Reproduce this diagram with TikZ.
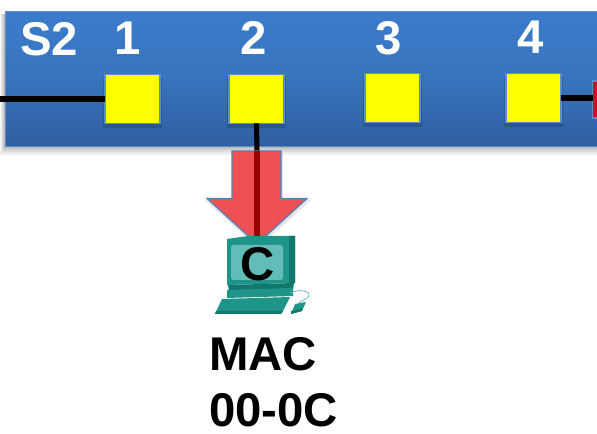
\documentclass[tikz,border=0pt]{standalone}
\usepackage{fontspec}
\setmainfont{Liberation Sans}
\usetikzlibrary{calc}
\definecolor{bandtop}{HTML}{3B7CCB}
\definecolor{bandbot}{HTML}{2F5F9F}
\definecolor{edgeblue}{HTML}{5F8FC8}
\definecolor{arrowred}{HTML}{EF5054}
\definecolor{arrowedge}{HTML}{4F81BD}
\definecolor{wirered}{HTML}{960000}
\definecolor{tealmid}{HTML}{1F9488}
\definecolor{tealdark}{HTML}{12786E}
\definecolor{teallight}{HTML}{62BDB8}
\definecolor{portred}{HTML}{C8102E}
\definecolor{pureyellow}{HTML}{FFFF00}
\tikzset{
  x=0.75pt,y=-0.75pt,
  port/.style={draw=edgeblue,line width=1.2pt,fill=pureyellow,minimum width=41.5pt,minimum height=36.5pt,inner sep=0pt,outer sep=0pt},
  wire/.style={line width=3.8pt,black},
  lbl/.style={font=\bfseries\fontsize{35.5}{35.5}\selectfont,white,inner sep=0pt},
  blk/.style={font=\bfseries\fontsize{35.5}{38}\selectfont,black,inner sep=0pt,align=left},
}
\begin{document}
\begin{tikzpicture}
\useasboundingbox (0,0) rectangle (597,434);
% band with soft shadow
\foreach \d/\o in {10/0.03,8/0.05,6/0.06,4/0.08,2/0.10}{
  \fill[black,opacity=\o] (5-\d*.5,14) rectangle (597,146+\d);
}
\node[draw=edgeblue,line width=1pt,minimum width=444pt,minimum height=101pt,inner sep=0pt,anchor=north west,top color=bandtop,bottom color=bandbot,middle color=bandtop!70!bandbot] (band) at (5,11) {};
% port shadows
\foreach \a/\b/\c/\e in {105/160/75/123,229/284/75/123,365/420/74/122,506/561/74/122}{
  \fill[black,opacity=.14] (\a-2,\c+2) rectangle (\b+2,\e+5);
}
\node[port] (p1) at (132.5,99) {};
\node[port] (p2) at (256.5,99) {};
\node[port] (p3) at (392.5,98) {};
\node[port] (p4) at (533.5,98) {};
\coordinate (leftend) at (0,99);
\fill[portred] (593,82) rectangle (597,117);
\draw[edgeblue,line width=.8pt] (597,81) -- (592.5,81) -- (592.5,118) -- (597,118);
\coordinate (rightend) at (593,98);
\coordinate (armtop) at (257,151);
\coordinate (pcend) at (257,236);
\draw[wire] (leftend) -- (p1.west);
\draw[wire] (p4.east) -- (rightend);
\draw[wire] (p2.south) -- (armtop);
% red arrow
\fill[black,opacity=.10] (234,153) -- (283,153) -- (283,200) -- (311,200) -- (258,248) -- (205,200) -- (234,200) -- cycle;
\draw[arrowedge,line width=.9pt,fill=arrowred] (232,151) -- (281,151) -- (281,198.5) -- (307,198.5) -- (257,244) -- (207,198.5) -- (232,198.5) -- cycle;
\draw[wirered,line width=3.8pt] (armtop) -- (pcend);
% computer
\fill[tealmid] (227,239) -- (248,236) -- (295,236) -- (295,283) -- (227,285) -- cycle;
\fill[tealdark] (289,236) -- (295,236) -- (295,283) -- (289,284) -- cycle;
\fill[teallight,rounded corners=2pt] (231,245) rectangle (283,280);
\fill[tealdark] (228,285) -- (294,283) -- (293,290) -- (229,291) -- cycle;
\fill[tealmid] (227,290) -- (293,288) -- (293,296) -- (227,298) -- cycle;
\fill[tealmid] (222,299) -- (290,297) -- (282,313) -- (215,314) -- cycle;
\fill[tealdark] (216,311) -- (283,311) -- (281,314) -- (215,314) -- cycle;
\draw[teallight,line width=.6pt] (290,293) .. controls (300,288) and (312,292) .. (309,296) .. controls (306,300) and (300,301) .. (299,303);
\fill[tealmid] (295,304) -- (306,302) -- (302,311) -- (291,314) -- cycle;
\fill[tealdark] (291,311) -- (302,309) -- (302,311) -- (291,314) -- cycle;
% labels
\node[lbl,anchor=base] (ls2) at (49,56) {S2};
\node[lbl,anchor=base] (l1) at (127.5,55) {1};
\node[lbl,anchor=base] (l2) at (254,55) {2};
\node[lbl,anchor=base] (l3) at (389,55) {3};
\node[lbl,anchor=base] (l4) at (531,54) {4};
\node[blk,anchor=base] (lc) at (258,281) {C};
\node[blk,anchor=base west] (lmac) at (209,371) {MAC};
\node[blk,anchor=base west] (laddr) at (209,427) {00-0C};
\end{tikzpicture}
\end{document}
